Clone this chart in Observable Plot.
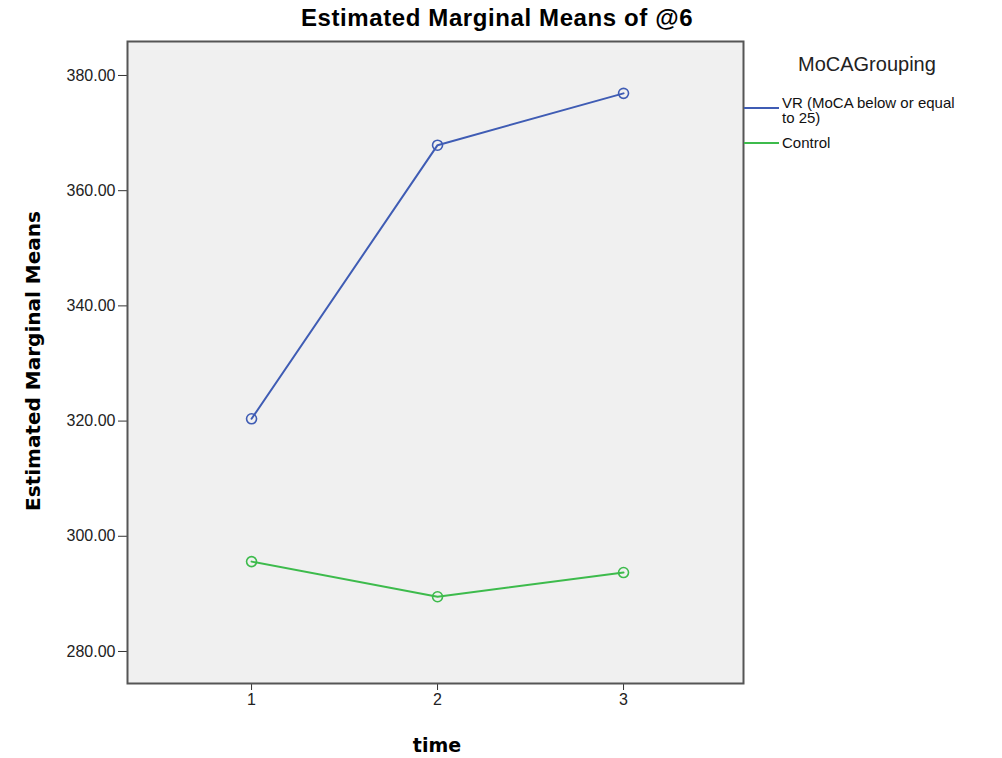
<!DOCTYPE html>
<html>
<head>
<meta charset="utf-8">
<script src="https://cdn.jsdelivr.net/npm/d3@7"></script>
<script src="https://cdn.jsdelivr.net/npm/@observablehq/plot@0.6"></script>
<style>
  html, body { margin: 0; padding: 0; background: #fff; }
  #wrap { position: relative; width: 1002px; height: 758px; font-family: "Liberation Sans", Arial, sans-serif; overflow: hidden; }
  .abs { position: absolute; white-space: nowrap; color: #000; }
  #title { left: 0; width: 994px; top: 4px; text-align: center; font-size: 24px; font-weight: bold; letter-spacing: 0.6px; }
  #ylab { left: 33px; top: 361px; transform: translate(-50%, -50%) rotate(-90deg); font-family: "DejaVu Sans", sans-serif; font-size: 20px; font-weight: bold; }
  #xlab { left: 437px; top: 745px; transform: translate(-50%, -50%); font-family: "DejaVu Sans", sans-serif; font-size: 19px; font-weight: bold; }
  #legtitle { left: 798px; top: 53px; font-size: 20px; color: #222; }
  .legtext { font-size: 15px; line-height: 15px; color: #111; }
</style>
</head>
<body>
<div id="wrap">
  <div id="chart"></div>
  <div class="abs" id="title">Estimated Marginal Means of @6</div>
  <div class="abs" id="ylab">Estimated Marginal Means</div>
  <div class="abs" id="xlab">time</div>
  <div class="abs" id="legtitle">MoCAGrouping</div>
  <div id="legend"></div>
</div>
<script>
const times = [1, 2, 3];
const groups = ["VR (MoCA below or equal to 25)", "Control"];
const legendLines = [["VR (MoCA below or equal", "to 25)"], ["Control"]];
const vrMeans = [320.4, 367.9, 376.9];
const controlMeans = [295.6, 289.5, 293.7];
const colors = ["#3f5cb4", "#3dbb4c"];
const yTicks = [280, 300, 320, 340, 360, 380];

const data = [];
times.forEach((t, i) => data.push({time: t, group: groups[0], value: vrMeans[i]}));
times.forEach((t, i) => data.push({time: t, group: groups[1], value: controlMeans[i]}));

const plot = Plot.plot({
  width: 1002,
  height: 758,
  marginLeft: 127,
  marginRight: 259,
  marginTop: 41,
  marginBottom: 75,
  style: {fontFamily: "Liberation Sans, Arial, sans-serif", color: "#222", background: "transparent"},
  x: {domain: [0.333, 3.645]},
  y: {domain: [274.44, 385.9]},
  color: {domain: groups, range: colors},
  marks: [
    Plot.frame({fill: "#f0f0f0"}),
    Plot.axisY({ticks: yTicks, tickSize: 9, tickWidth: 2, stroke: "#333", text: null, label: null}),
    Plot.text(yTicks, {y: d => d, text: d => d.toFixed(2), frameAnchor: "left", dx: -12, textAnchor: "end", fontSize: 16, fill: "#222"}),
    Plot.axisX({ticks: times, tickSize: 7, tickWidth: 2, stroke: "#333", text: null, label: null}),
    Plot.text(times, {x: d => d, text: d => String(d), frameAnchor: "bottom", dy: 21, fontSize: 16, fill: "#222"}),
    Plot.line(data, {x: "time", y: "value", z: "group", stroke: "group", strokeWidth: 2}),
    Plot.dot(data, {x: "time", y: "value", stroke: "group", r: 5, strokeWidth: 1.6, fill: "none"}),
    Plot.frame({stroke: "#555", strokeWidth: 2})
  ]
});
document.getElementById("chart").appendChild(plot);

const legend = document.getElementById("legend");
const legY = [108, 143];
groups.forEach((g, i) => {
  const line = document.createElement("div");
  line.style.cssText = `position:absolute;left:744px;top:${legY[i]-1}px;width:35px;height:2px;background:${colors[i]};`;
  legend.appendChild(line);
  const txt = document.createElement("div");
  txt.className = "abs legtext";
  txt.style.left = "782px";
  const n = legendLines[i].length;
  txt.style.top = (legY[i] - Math.round(n * 15 / 2) + (n > 1 ? 2 : 0)) + "px";
  txt.innerHTML = legendLines[i].join("<br>");
  legend.appendChild(txt);
});
</script>
</body>
</html>
